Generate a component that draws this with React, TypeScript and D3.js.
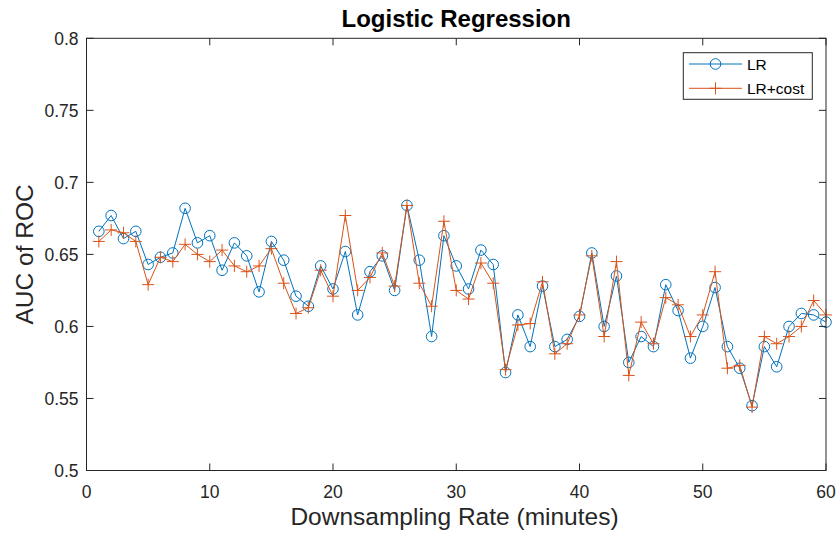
import React from "react";
import * as d3 from "d3";

const W = 836;
const H = 537;
const FONT = "'Liberation Sans', Arial, Helvetica, sans-serif";
const BLUE = "#0072BD";
const ORANGE = "#D95319";
const AXIS = "#262626";

// downsampling rate (minutes)
const rates = [
  1, 2, 3, 4, 5, 6, 7, 8, 9, 10, 11, 12, 13, 14, 15, 16, 17, 18, 19, 20,
  21, 22, 23, 24, 25, 26, 27, 28, 29, 30, 31, 32, 33, 34, 35, 36, 37, 38, 39, 40,
  41, 42, 43, 44, 45, 46, 47, 48, 49, 50, 51, 52, 53, 54, 55, 56, 57, 58, 59, 60,
];

const lrAuc = [
  0.666, 0.677, 0.661, 0.666, 0.643, 0.648, 0.651, 0.682, 0.658, 0.663,
  0.639, 0.658, 0.649, 0.624, 0.659, 0.646, 0.621, 0.614, 0.642, 0.626,
  0.652, 0.608, 0.638, 0.649, 0.625, 0.684, 0.646, 0.593, 0.663, 0.642,
  0.626, 0.653, 0.643, 0.568, 0.608, 0.586, 0.628, 0.586, 0.591, 0.607,
  0.651, 0.6, 0.635, 0.575, 0.593, 0.586, 0.629, 0.611, 0.578, 0.6,
  0.627, 0.586, 0.571, 0.545, 0.586, 0.572, 0.6, 0.609, 0.608, 0.603,
];

const lrCostAuc = [
  0.659, 0.667, 0.665, 0.659, 0.629, 0.648, 0.645, 0.657, 0.65, 0.645,
  0.653, 0.642, 0.638, 0.642, 0.654, 0.63, 0.609, 0.613, 0.639, 0.621,
  0.677, 0.625, 0.634, 0.651, 0.628, 0.684, 0.63, 0.614, 0.673, 0.625,
  0.619, 0.644, 0.63, 0.57, 0.601, 0.602, 0.631, 0.581, 0.588, 0.608,
  0.649, 0.593, 0.645, 0.566, 0.603, 0.588, 0.62, 0.615, 0.593, 0.608,
  0.638, 0.571, 0.573, 0.544, 0.593, 0.588, 0.593, 0.6, 0.618, 0.608,
];

const xTicks = [0, 10, 20, 30, 40, 50, 60];
const yTicks = [0.5, 0.55, 0.6, 0.65, 0.7, 0.75, 0.8];
const seriesNames = ["LR", "LR+cost"];

const plot = { left: 86.5, right: 826, top: 38.3, bottom: 470.5 };
const TICK = 7;

export default function App() {
  const x = d3.scaleLinear().domain([0, 60]).range([plot.left, plot.right]);
  const y = d3.scaleLinear().domain([0.5, 0.8]).range([plot.bottom, plot.top]);

  const line = d3
    .line<number>()
    .x((_, i) => x(rates[i]))
    .y((d) => y(d));

  const series = [
    { name: seriesNames[0], values: lrAuc, color: BLUE, marker: "o" },
    { name: seriesNames[1], values: lrCostAuc, color: ORANGE, marker: "+" },
  ];

  const marker = (kind: string, cx: number, cy: number, color: string, key: any) =>
    kind === "o" ? (
      <circle key={key} cx={cx} cy={cy} r={5.3} fill="none" stroke={color} strokeWidth={1} />
    ) : (
      <path
        key={key}
        d={`M${cx - 6},${cy}H${cx + 6}M${cx},${cy - 6}V${cy + 6}`}
        stroke={color}
        strokeWidth={1}
        fill="none"
      />
    );

  const cx = (plot.left + plot.right) / 2;
  const legend = { x: 683.3, y: 52.7, w: 129, h: 46.6 };

  return (
    <svg
      width={W}
      height={H}
      style={{ position: "absolute", left: 0, top: 0, background: "#fff" }}
      fontFamily={FONT}
    >
      <rect x={0} y={0} width={W} height={H} fill="#fff" />

      {/* series */}
      {series.map((s) => (
        <g key={s.name}>
          <path d={line(s.values) || ""} fill="none" stroke={s.color} strokeWidth={1} />
          {s.values.map((v, i) => marker(s.marker, x(rates[i]), y(v), s.color, i))}
        </g>
      ))}

      {/* axes box */}
      <rect
        x={plot.left}
        y={plot.top}
        width={plot.right - plot.left}
        height={plot.bottom - plot.top}
        fill="none"
        stroke={AXIS}
        strokeWidth={1}
      />
      {xTicks.map((t) => (
        <g key={"x" + t}>
          <line x1={x(t)} x2={x(t)} y1={plot.bottom} y2={plot.bottom - TICK} stroke={AXIS} />
          <line x1={x(t)} x2={x(t)} y1={plot.top} y2={plot.top + TICK} stroke={AXIS} />
          <text x={x(t)} y={497.5} textAnchor="middle" fontSize={17.5} fill={AXIS}>
            {t}
          </text>
        </g>
      ))}
      {yTicks.map((t) => (
        <g key={"y" + t}>
          <line x1={plot.left} x2={plot.left + TICK} y1={y(t)} y2={y(t)} stroke={AXIS} />
          <line x1={plot.right} x2={plot.right - TICK} y1={y(t)} y2={y(t)} stroke={AXIS} />
          <text x={plot.left - 8} y={y(t) + 6.3} textAnchor="end" fontSize={17.5} fill={AXIS}>
            {d3.format("")(t)}
          </text>
        </g>
      ))}

      {/* labels */}
      <text x={cx} y={26.5} textAnchor="middle" fontSize={24} fontWeight="bold" fill="#000">
        Logistic Regression
      </text>
      <text x={454.5} y={524.5} textAnchor="middle" fontSize={24.5} fill={AXIS}>
        Downsampling Rate (minutes)
      </text>
      <text
        transform={`translate(33,${(plot.top + plot.bottom) / 2}) rotate(-90)`}
        textAnchor="middle"
        fontSize={24.5}
        fill={AXIS}
      >
        AUC of ROC
      </text>

      {/* legend */}
      <rect x={legend.x} y={legend.y} width={legend.w} height={legend.h} fill="#fff" stroke={AXIS} strokeWidth={1} />
      {series.map((s, i) => {
        const ly = 64 + i * 24.3;
        return (
          <g key={"lg" + s.name}>
            <line x1={689} x2={742} y1={ly} y2={ly} stroke={s.color} strokeWidth={1} />
            {marker(s.marker, 715.5, ly, s.color, "m")}
            <text x={747} y={ly + 5.5} fontSize={15.5} fill="#000">
              {s.name}
            </text>
          </g>
        );
      })}
    </svg>
  );
}
